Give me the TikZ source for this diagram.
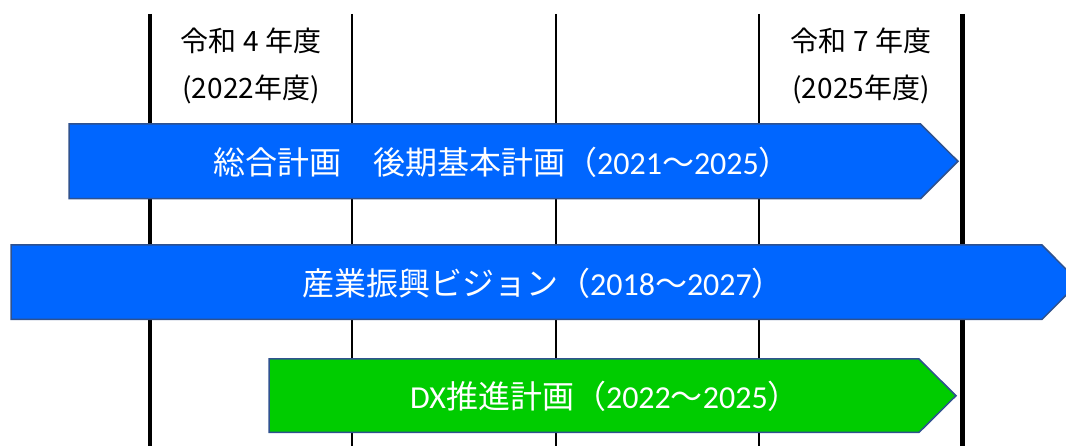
\documentclass[tikz,border=0pt]{standalone}
\usepackage{fontspec}
\setmainfont{Noto Sans CJK JP}
\newfontfamily\latf{Carlito}
\definecolor{barblue}{HTML}{0066FF}
\definecolor{bargreen}{HTML}{00CC00}
\definecolor{edgeblue}{HTML}{2F528F}
\tikzset{
  yearline/.style={draw=black},
  bar/.style={draw=edgeblue, line width=1.5pt, line join=miter},
  bartext/.style={text=white, font=\fontsize{32}{36}\selectfont, inner sep=0pt, anchor=center},
  headtext/.style={text=black, font=\fontsize{28}{32}\selectfont, inner sep=0pt, anchor=center}
}
\newcommand{\dg}[1]{{\latf #1}}
\begin{document}
\begin{tikzpicture}[x=1pt,y=-1pt]
\useasboundingbox (0,0) rectangle (1066,446);
\clip (0,0) rectangle (1066,446);
% year lines
\coordinate (l1t) at (149.7,14); \coordinate (l1b) at (149.7,446);
\coordinate (l2t) at (351.7,14); \coordinate (l2b) at (351.7,446);
\coordinate (l3t) at (556,14);   \coordinate (l3b) at (556,446);
\coordinate (l4t) at (759.3,14); \coordinate (l4b) at (759.3,446);
\coordinate (l5t) at (962.3,14); \coordinate (l5b) at (962.3,446);
\draw[yearline, line width=4pt] (l1t) -- (l1b);
\draw[yearline, line width=2pt] (l2t) -- (l2b);
\draw[yearline, line width=2pt] (l3t) -- (l3b);
\draw[yearline, line width=2pt] (l4t) -- (l4b);
\draw[yearline, line width=5pt] (l5t) -- (l5b);
% headers
\node[headtext] (h1a) at (251,41) {令和 4 年度};
\node[headtext] (h1b) at (251,89) {(2022年度)};
\node[headtext] (h2a) at (861,41) {令和 7 年度};
\node[headtext] (h2b) at (861,89) {(2025年度)};
% bar 1
\fill[barblue] (69,124) -- (920.5,124) -- (958,161.3) -- (920.5,198.7) -- (69,198.7) -- cycle;
\draw[bar] (69,124) -- (920.5,124) -- (958,161.3) -- (920.5,198.7) -- (69,198.7) -- cycle;
\node[bartext] (t1) at (502,162) {総合計画　後期基本計画（\dg{2021}～\dg{2025}）};
% bar 2
\fill[barblue] (11,245) -- (1042,245) -- (1079,282.2) -- (1042,319.4) -- (11,319.4) -- cycle;
\draw[bar] (11,245) -- (1042,245) -- (1079,282.2) -- (1042,319.4) -- (11,319.4) -- cycle;
\node[bartext] (t2) at (543,283) {産業振興ビジョン（\dg{2018}～\dg{2027}）};
% bar 3
\fill[bargreen] (269,359) -- (919,359) -- (956,395.7) -- (919,432.4) -- (269,432.4) -- cycle;
\draw[bar] (269,359) -- (919,359) -- (956,395.7) -- (919,432.4) -- (269,432.4) -- cycle;
\node[bartext] (t3) at (605,396) {\dg{DX}推進計画（\dg{2022}～\dg{2025}）};
\end{tikzpicture}
\end{document}
